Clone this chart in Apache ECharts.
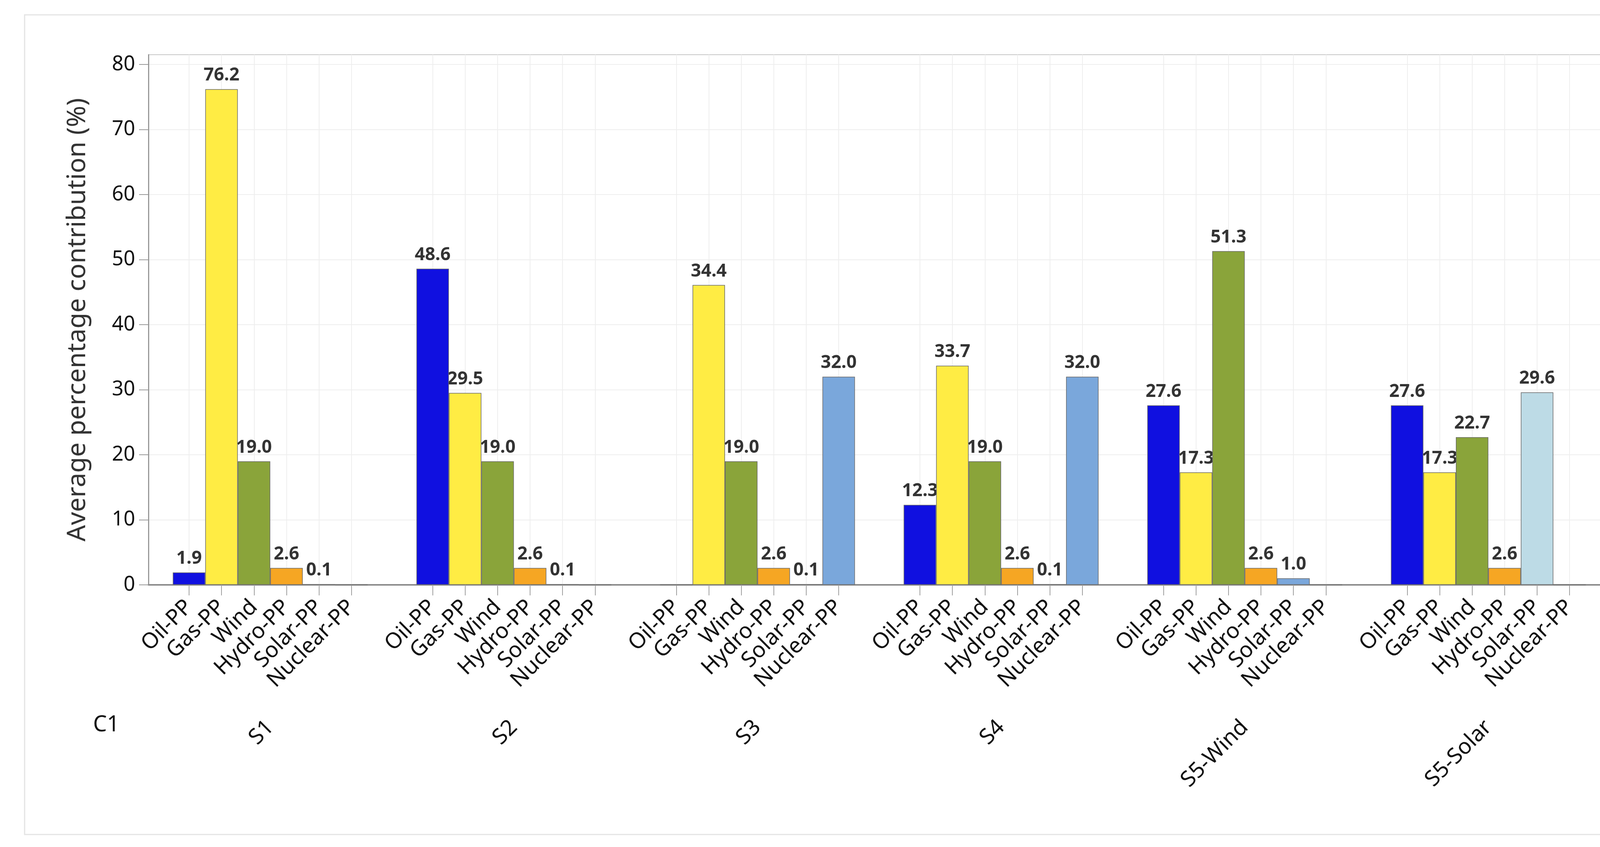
<!DOCTYPE html>
<html>
<head>
<meta charset="utf-8">
<title>Average percentage contribution</title>
<script src="https://cdn.jsdelivr.net/npm/echarts@6/dist/echarts.min.js"></script>
<style>
  html, body { margin: 0; padding: 0; background: #fff; }
  #chart { width: 4305px; height: 2168px; }
</style>
</head>
<body>
<div id="chart"></div>
<script>
// categories
const plants = ['Oil-PP', 'Gas-PP', 'Wind', 'Hydro-PP', 'Solar-PP', 'Nuclear-PP'];
const scenarios = ['S1', 'S2', 'S3', 'S4', 'S5-Wind', 'S5-Solar'];
const yTicks = [0, 10, 20, 30, 40, 50, 60, 70, 80];

// bar heights, one array per scenario (order = plants)
const s1 = [1.9, 76.2, 19.0, 2.6, 0.1, 0];
const s2 = [48.6, 29.5, 19.0, 2.6, 0.1, 0];
const s3 = [0, 46.1, 19.0, 2.6, 0.1, 32.0];
const s4 = [12.3, 33.7, 19.0, 2.6, 0.1, 32.0];
const s5Wind = [27.6, 17.3, 51.3, 2.6, 1.0, 0];
const s5Solar = [27.6, 17.3, 22.7, 2.6, 29.6, 0];

// printed labels (S3 Gas-PP is printed 34.4 although its bar is taller)
const s1Text = ['1.9', '76.2', '19.0', '2.6', '0.1', ''];
const s2Text = ['48.6', '29.5', '19.0', '2.6', '0.1', ''];
const s3Text = ['', '34.4', '19.0', '2.6', '0.1', '32.0'];
const s4Text = ['12.3', '33.7', '19.0', '2.6', '0.1', '32.0'];
const s5WindText = ['27.6', '17.3', '51.3', '2.6', '1.0', ''];
const s5SolarText = ['27.6', '17.3', '22.7', '2.6', '29.6', ''];

const values = [s1, s2, s3, s4, s5Wind, s5Solar];
const texts = [s1Text, s2Text, s3Text, s4Text, s5WindText, s5SolarText];

// colours
const plantColors = ['#1010e0', '#ffec44', '#8aa43a', '#f6a623', '#7aa7db', '#7aa7db'];
const solarOwnColor = '#bddbe6'; // solar bar of the S5-Solar scenario

// slot layout on a fine category axis (quarter of a bar width per slot)
const firstSlot = 5, groupStep = 30, barStep = 4, slotCount = 181;

const xData = new Array(slotCount).fill('');
const labelData = new Array(slotCount).fill('-');
const barData = new Array(slotCount).fill('-');
values.forEach(function (vals, g) {
  vals.forEach(function (v, i) {
    const k = firstSlot + g * groupStep + i * barStep;
    xData[k] = plants[i];
    let color = plantColors[i];
    if (g === 5 && i === 4) color = solarOwnColor;
    barData[k] = { value: v, itemStyle: { color: color } };
    labelData[k] = { value: v, txt: texts[g][i] };
  });
});

const font = 'Noto Sans';
const onBar = function (idx, val) { return val !== ''; };

const chart = echarts.init(document.getElementById('chart'));
chart.setOption({
  animation: false,
  backgroundColor: '#fff',
  textStyle: { fontFamily: font },
  grid: {
    left: 380, top: 140, width: 3742, height: 1357,
    show: true, borderColor: '#c8c8c8', borderWidth: 2, backgroundColor: 'transparent'
  },
  xAxis: [
    {
      type: 'category',
      data: xData,
      boundaryGap: false,
      axisLine: { lineStyle: { color: '#8c8c8c', width: 4 } },
      axisTick: { interval: onBar, length: 27, lineStyle: { color: '#a0a0a0', width: 2 } },
      axisLabel: {
        interval: onBar, rotate: 45, margin: 48,
        fontSize: 56, color: '#111', fontFamily: font
      },
      splitLine: { show: true, interval: onBar, lineStyle: { color: '#eeeeee', width: 2 } }
    },
    {
      type: 'category',
      data: scenarios,
      position: 'bottom',
      axisLine: { show: false },
      axisTick: { show: false },
      axisLabel: {
        interval: 0, rotate: 45, margin: 356,
        fontSize: 56, color: '#111', fontFamily: font
      },
      splitLine: { show: false }
    }
  ],
  yAxis: {
    type: 'value',
    min: 0, max: 81.5, interval: 10,
    name: 'Average percentage contribution (%)',
    nameLocation: 'middle',
    nameGap: 148,
    nameTextStyle: { fontSize: 66, color: '#333', fontFamily: font },
    axisLine: { show: true, lineStyle: { color: '#999', width: 3 } },
    axisTick: { show: true, length: 24, customValues: yTicks, lineStyle: { color: '#999', width: 2 } },
    axisLabel: { fontSize: 52, margin: 34, color: '#111', customValues: yTicks, fontFamily: font },
    splitLine: { lineStyle: { color: '#eeeeee', width: 2 } }
  },
  series: [
    {
      // label carrier, drawn under the coloured bars
      name: 'labels',
      type: 'bar',
      xAxisIndex: 0,
      data: labelData,
      barWidth: '400%',
      z: 1,
      itemStyle: { color: 'rgba(0,0,0,0)', borderWidth: 0 },
      label: {
        show: true, position: 'top', distance: 12,
        fontSize: 46, fontWeight: 'bold', color: '#333', fontFamily: font,
        formatter: function (p) { return p.data.txt; }
      }
    },
    {
      name: 'bars',
      type: 'bar',
      xAxisIndex: 0,
      data: barData,
      barWidth: '400%',
      barGap: '-100%',
      z: 2,
      itemStyle: { borderColor: '#6a6a6a', borderWidth: 1.5 }
    }
  ],
  graphic: [
    {
      type: 'rect',
      shape: { x: 63, y: 38, width: 4205, height: 2098 },
      style: { fill: 'none', stroke: '#e4e4e4', lineWidth: 3 },
      silent: true
    },
    {
      type: 'text',
      x: 272, y: 1856,
      style: {
        text: 'C1', fontSize: 56, fill: '#111', fontFamily: font,
        textAlign: 'center', textVerticalAlign: 'middle'
      }
    }
  ]
});
</script>
</body>
</html>
